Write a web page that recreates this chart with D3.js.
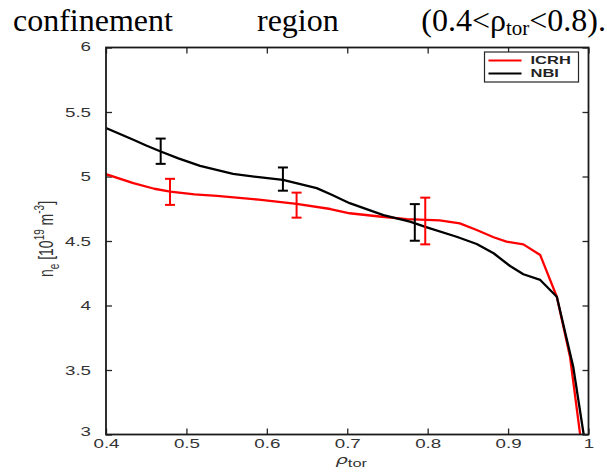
<!DOCTYPE html>
<html>
<head>
<meta charset="utf-8">
<script src="https://cdn.jsdelivr.net/npm/d3@7"></script>
<style>
  body { margin: 0; background: #fff; }
  svg { display: block; }
</style>
</head>
<body>
<div id="my_dataviz"></div>
<script>
// profile data
var rhoICRH = [0.40, 0.434, 0.46, 0.48, 0.51, 0.538, 0.59, 0.637, 0.679, 0.703, 0.74, 0.774, 0.815, 0.840, 0.861, 0.882, 0.898, 0.919, 0.940, 0.9606, 0.977, 0.9896];
var neICRH  = [5.018, 4.948, 4.905, 4.883, 4.862, 4.85, 4.82, 4.787, 4.748, 4.715, 4.69, 4.67, 4.66, 4.637, 4.585, 4.529, 4.495, 4.474, 4.391, 4.068, 3.603, 3.0];

var rhoNBI = [0.40, 0.434, 0.45, 0.468, 0.49, 0.517, 0.558, 0.59, 0.62, 0.662, 0.68, 0.703, 0.745, 0.778, 0.799, 0.836, 0.861, 0.882, 0.9025, 0.919, 0.940, 0.9606, 0.981, 0.994];
var neNBI  = [5.376, 5.285, 5.24, 5.194, 5.14, 5.083, 5.02, 4.995, 4.974, 4.91, 4.86, 4.793, 4.70, 4.65, 4.606, 4.533, 4.477, 4.405, 4.306, 4.242, 4.198, 4.068, 3.526, 3.0];

// error bars: position, centre, half width
var errRhoICRH = [0.4796, 0.637, 0.797];
var errNeICRH  = [4.881, 4.778, 4.655];
var errDevICRH = [0.101, 0.097, 0.181];

var errRhoNBI = [0.468, 0.62, 0.784];
var errNeNBI  = [5.196, 4.98, 4.644];
var errDevNBI = [0.098, 0.09, 0.142];

var xTicks = [0.4, 0.5, 0.6, 0.7, 0.8, 0.9, 1];
var yTicks = [3, 3.5, 4, 4.5, 5, 5.5, 6];
var legendNames = ["ICRH", "NBI"];
var colors = {ICRH: "#ff0000", NBI: "#000000"};

var W = 607, H = 474;
var margin = {top: 47.5, right: 18.5, bottom: 39.5, left: 106},
    width = W - margin.left - margin.right,
    height = H - margin.top - margin.bottom;

// the figure in the paper is stretched sideways, text too
var sx = 1.5;
var sansFont = "'Liberation Sans', Arial, sans-serif";

var root = d3.select("#my_dataviz").append("svg")
    .attr("width", W)
    .attr("height", H);

// caption line above the figure (justified text from the paper)
var cap = root.append("g")
  .style("font-family", "'Liberation Serif', 'Times New Roman', serif")
  .style("font-size", "32px")
  .attr("fill", "#000");
cap.append("text").attr("x", 13).attr("y", 31).text("confinement");
cap.append("text").attr("x", 257).attr("y", 31).text("region");
var capT = cap.append("text").attr("x", 606).attr("y", 31).attr("text-anchor", "end");
capT.append("tspan").text("(0.4<ρ");
capT.append("tspan").style("font-size", "21px").attr("dy", 4).text("tor");
capT.append("tspan").attr("dy", -4).text("<0.8).");

var svg = root.append("g")
    .attr("transform", "translate(" + margin.left + "," + margin.top + ")");

var x = d3.scaleLinear().domain([0.4, 1]).range([0, width]);
var y = d3.scaleLinear().domain([3, 6]).range([height, 0]);

// axes, ticks inward like matlab
var tickLen = 6;
function styleAxis(g) {
  g.select(".domain").remove();
  g.selectAll(".tick line").attr("stroke", "#262626").attr("stroke-width", 1.3);
  g.selectAll(".tick text")
    .attr("fill", "#333")
    .attr("transform", "scale(" + sx + ",1)")
    .style("font", "12.5px " + sansFont);
}

var fmt = function(d) { return d % 1 === 0 ? d3.format("d")(d) : d3.format(".1f")(d); };

var xAxis = svg.append("g")
  .attr("transform", "translate(0," + height + ")")
  .call(d3.axisBottom(x).tickValues(xTicks).tickSize(-tickLen).tickPadding(5).tickFormat(fmt))
  .call(styleAxis);
xAxis.selectAll(".tick text").attr("dy", "0.72em");

svg.append("g")
  .call(d3.axisTop(x).tickValues(xTicks).tickSize(-tickLen).tickFormat(""))
  .call(styleAxis);

var yAxis = svg.append("g")
  .call(d3.axisLeft(y).tickValues(yTicks).tickSize(-tickLen).tickPadding(10).tickFormat(fmt))
  .call(styleAxis);
yAxis.selectAll(".tick text").filter(function(d) { return d === 3; }).attr("dy", "0.1em");
yAxis.selectAll(".tick text").filter(function(d) { return d === 6; }).attr("dy", "0.25em");

svg.append("g")
  .attr("transform", "translate(" + width + ",0)")
  .call(d3.axisRight(y).tickValues(yTicks).tickSize(-tickLen).tickFormat(""))
  .call(styleAxis);

// clip lines to the box
svg.append("clipPath").attr("id", "clip")
  .append("rect").attr("width", width).attr("height", height);

var line = d3.line()
  .x(function(d) { return x(d[0]); })
  .y(function(d) { return y(d[1]); });

var series = [
  {name: "ICRH", pts: d3.zip(rhoICRH, neICRH), eb: d3.zip(errRhoICRH, errNeICRH, errDevICRH)},
  {name: "NBI", pts: d3.zip(rhoNBI, neNBI), eb: d3.zip(errRhoNBI, errNeNBI, errDevNBI)}
];

var plot = svg.append("g").attr("clip-path", "url(#clip)");

series.forEach(function(s) {
  plot.append("path")
    .datum(s.pts)
    .attr("fill", "none")
    .attr("stroke", colors[s.name])
    .attr("stroke-width", 2.3)
    .attr("stroke-linejoin", "round")
    .attr("d", line);

  var cw = 5;
  var eb = svg.append("g").selectAll("g").data(s.eb).enter().append("g")
    .attr("stroke", colors[s.name]).attr("stroke-width", 2);
  eb.append("line")
    .attr("x1", function(d) { return x(d[0]); }).attr("x2", function(d) { return x(d[0]); })
    .attr("y1", function(d) { return y(d[1] + d[2]); }).attr("y2", function(d) { return y(d[1] - d[2]); });
  eb.append("line")
    .attr("x1", function(d) { return x(d[0]) - cw; }).attr("x2", function(d) { return x(d[0]) + cw; })
    .attr("y1", function(d) { return y(d[1] + d[2]); }).attr("y2", function(d) { return y(d[1] + d[2]); });
  eb.append("line")
    .attr("x1", function(d) { return x(d[0]) - cw; }).attr("x2", function(d) { return x(d[0]) + cw; })
    .attr("y1", function(d) { return y(d[1] - d[2]); }).attr("y2", function(d) { return y(d[1] - d[2]); });
});

// box
svg.append("rect")
  .attr("width", width).attr("height", height)
  .attr("fill", "none").attr("stroke", "#1a1a1a").attr("stroke-width", 1.8);

// legend
var leg = svg.append("g").attr("transform", "translate(" + (width - 104) + ",4.5)");
leg.append("rect").attr("width", 94).attr("height", 30)
  .attr("fill", "#fff").attr("stroke", "#262626").attr("stroke-width", 1.2);
legendNames.forEach(function(n, i) {
  var ly = 8.5 + i * 13;
  leg.append("line")
    .attr("x1", 4).attr("x2", 37)
    .attr("y1", ly).attr("y2", ly)
    .attr("stroke", colors[n]).attr("stroke-width", 2);
  leg.append("text")
    .attr("transform", "translate(46," + ly + ") scale(" + sx + ",1)")
    .attr("dy", "0.36em")
    .style("font", "bold 11px " + sansFont)
    .attr("fill", "#222")
    .text(n);
});

// x label
var xl = svg.append("text")
  .attr("transform", "translate(" + (x(0.7) + 4) + "," + (height + 29) + ") scale(" + sx + ",1)")
  .attr("text-anchor", "middle")
  .attr("fill", "#333");
xl.append("tspan").style("font", "italic 13px 'DejaVu Sans', sans-serif").text("ρ");
xl.append("tspan").attr("dy", 3).style("font", "11px " + sansFont).text("tor");

// y label
var yl = svg.append("text")
  .attr("transform", "translate(-53," + (239 - margin.top) + ") scale(" + sx + ",1) rotate(-90)")
  .attr("text-anchor", "middle")
  .attr("fill", "#333")
  .style("font", "14px " + sansFont);
yl.append("tspan").text("n");
yl.append("tspan").attr("dy", 4).style("font-size", "10px").text("e");
yl.append("tspan").attr("dy", -4).text(" [10");
yl.append("tspan").attr("dy", -6).style("font-size", "10px").text("19");
yl.append("tspan").attr("dy", 6).text(" m");
yl.append("tspan").attr("dy", -6).style("font-size", "10px").text("-3");
yl.append("tspan").attr("dy", 6).text("]");
</script>
</body>
</html>
